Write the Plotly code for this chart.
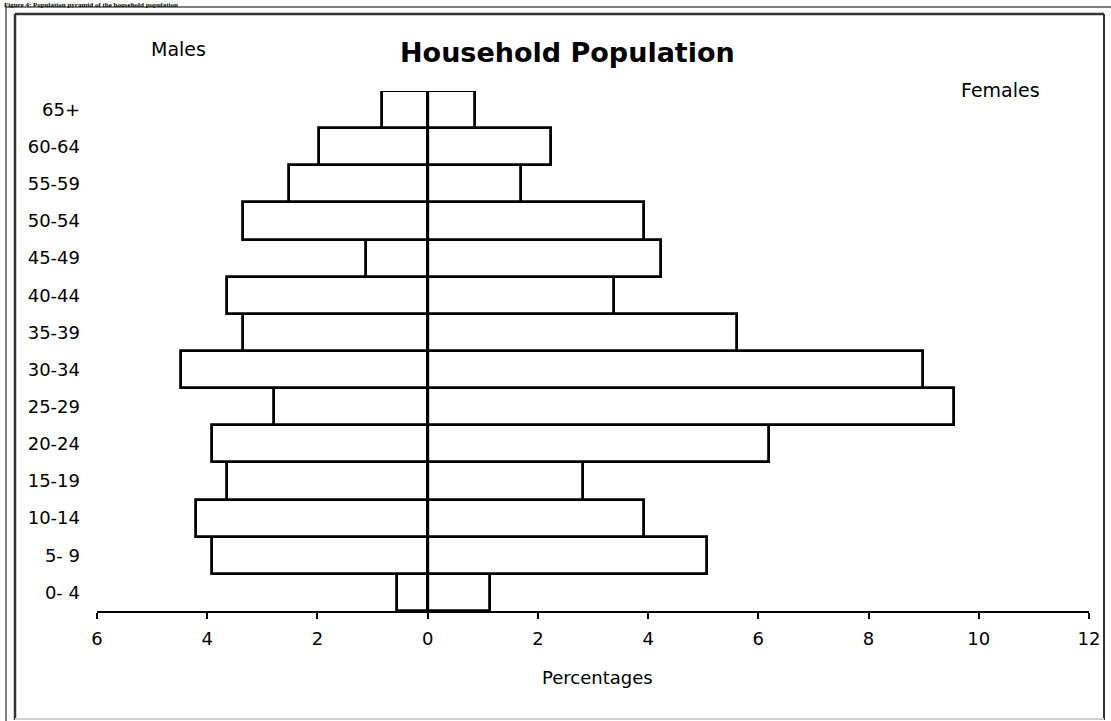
import plotly.graph_objects as go

# ---- data ----
age_groups = ["0- 4", "5- 9", "10-14", "15-19", "20-24", "25-29", "30-34",
              "35-39", "40-44", "45-49", "50-54", "55-59", "60-64", "65+"]
males = [0.55, 3.92, 4.20, 3.64, 3.92, 2.79, 4.48, 3.35, 3.65, 1.11, 3.35, 2.51, 1.97, 0.83]
females = [1.13, 5.07, 3.93, 2.82, 6.20, 9.55, 8.98, 5.61, 3.38, 4.24, 3.93, 1.69, 2.24, 0.86]
x_tick_vals = [-6, -4, -2, 0, 2, 4, 6, 8, 10, 12]
x_tick_text = ["6", "4", "2", "0", "2", "4", "6", "8", "10", "12"]

W, H = 1111, 721
L, R, T, B = 97, 22, 91, 110
PW, PH = W - L - R, H - T - B


def px(x):
    return (x - L) / PW


def py(y):
    return (H - B - y) / PH


FONT = "DejaVu Sans, Arial, sans-serif"
bar_line = dict(color="black", width=2.8)

fig = go.Figure()
fig.add_trace(go.Bar(
    y=age_groups, x=[-m for m in males], orientation="h", name="Males",
    marker=dict(color="white", line=bar_line), width=1.0,
    hovertemplate="%{y}: %{customdata}%<extra>Males</extra>", customdata=males,
))
fig.add_trace(go.Bar(
    y=age_groups, x=females, orientation="h", name="Females",
    marker=dict(color="white", line=bar_line), width=1.0,
))

fig.update_layout(
    width=W, height=H,
    margin=dict(l=L, r=R, t=T, b=B, pad=0),
    paper_bgcolor="white", plot_bgcolor="white",
    barmode="relative", bargap=0, showlegend=False,
    font=dict(family=FONT, size=18, color="black"),
    xaxis=dict(
        range=[-6, 12], tickvals=x_tick_vals, ticktext=x_tick_text,
        showline=True, linecolor="black", linewidth=2,
        ticks="outside", ticklen=6, tickwidth=2, tickcolor="black",
        showgrid=False, zeroline=False,
        tickfont=dict(family=FONT, size=18, color="black"),
        ticklabelstandoff=4,
    ),
    yaxis=dict(
        type="category", categoryorder="array", categoryarray=age_groups,
        range=[-0.5, 13.5], showgrid=False, showline=False, zeroline=False,
        ticks="", tickfont=dict(family=FONT, size=18, color="black"),
        ticklabelstandoff=16,
    ),
)

# central category axis line at 0
fig.add_shape(type="line", xref="x", yref="paper", x0=0, x1=0, y0=0, y1=1,
              line=dict(color="black", width=3), layer="above")

# frame lines
fig.add_shape(type="line", xref="paper", yref="paper",
              x0=px(6), x1=px(1111), y0=py(7), y1=py(7),
              line=dict(color="black", width=1))
fig.add_shape(type="line", xref="paper", yref="paper",
              x0=px(6), x1=px(6), y0=py(7), y1=py(721),
              line=dict(color="black", width=1))
fig.add_shape(type="line", xref="paper", yref="paper",
              x0=px(15), x1=px(1104), y0=py(14), y1=py(14),
              line=dict(color="#333333", width=2.5))
fig.add_shape(type="line", xref="paper", yref="paper",
              x0=px(15), x1=px(15), y0=py(14), y1=py(720),
              line=dict(color="#333333", width=2.5))
fig.add_shape(type="line", xref="paper", yref="paper",
              x0=px(1104), x1=px(1104), y0=py(14), y1=py(720),
              line=dict(color="#333333", width=2))
fig.add_shape(type="line", xref="paper", yref="paper",
              x0=px(15), x1=px(1104), y0=py(719), y1=py(719),
              line=dict(color="#d0d0d0", width=2))

# texts
fig.add_annotation(xref="paper", yref="paper", x=px(567), y=py(52),
                   text="<b>Household Population</b>", showarrow=False,
                   xanchor="center", yanchor="middle",
                   font=dict(family=FONT, size=27, color="black"))
fig.add_annotation(xref="paper", yref="paper", x=px(178), y=py(49),
                   text="Males", showarrow=False, xanchor="center", yanchor="middle",
                   font=dict(family=FONT, size=19, color="black"))
fig.add_annotation(xref="paper", yref="paper", x=px(1000), y=py(90),
                   text="Females", showarrow=False, xanchor="center", yanchor="middle",
                   font=dict(family=FONT, size=19, color="black"))
fig.add_annotation(xref="paper", yref="paper", x=px(597), y=py(677),
                   text="Percentages", showarrow=False, xanchor="center", yanchor="middle",
                   font=dict(family=FONT, size=18, color="black"))
# caption of the document page (only a thin strip is visible in the reference)
fig.add_annotation(xref="paper", yref="paper", x=px(2), y=py(-1),
                   text="<b>Figure 4: Population pyramid of the household population</b>",
                   showarrow=False, xanchor="left", yanchor="top",
                   font=dict(family="Liberation Serif, Times New Roman, serif", size=7, color="black"))

fig.write_html(
    "out.html",
    config={"displayModeBar": False},
    post_script="document.body.style.margin='0';document.body.style.overflow='hidden';",
)
